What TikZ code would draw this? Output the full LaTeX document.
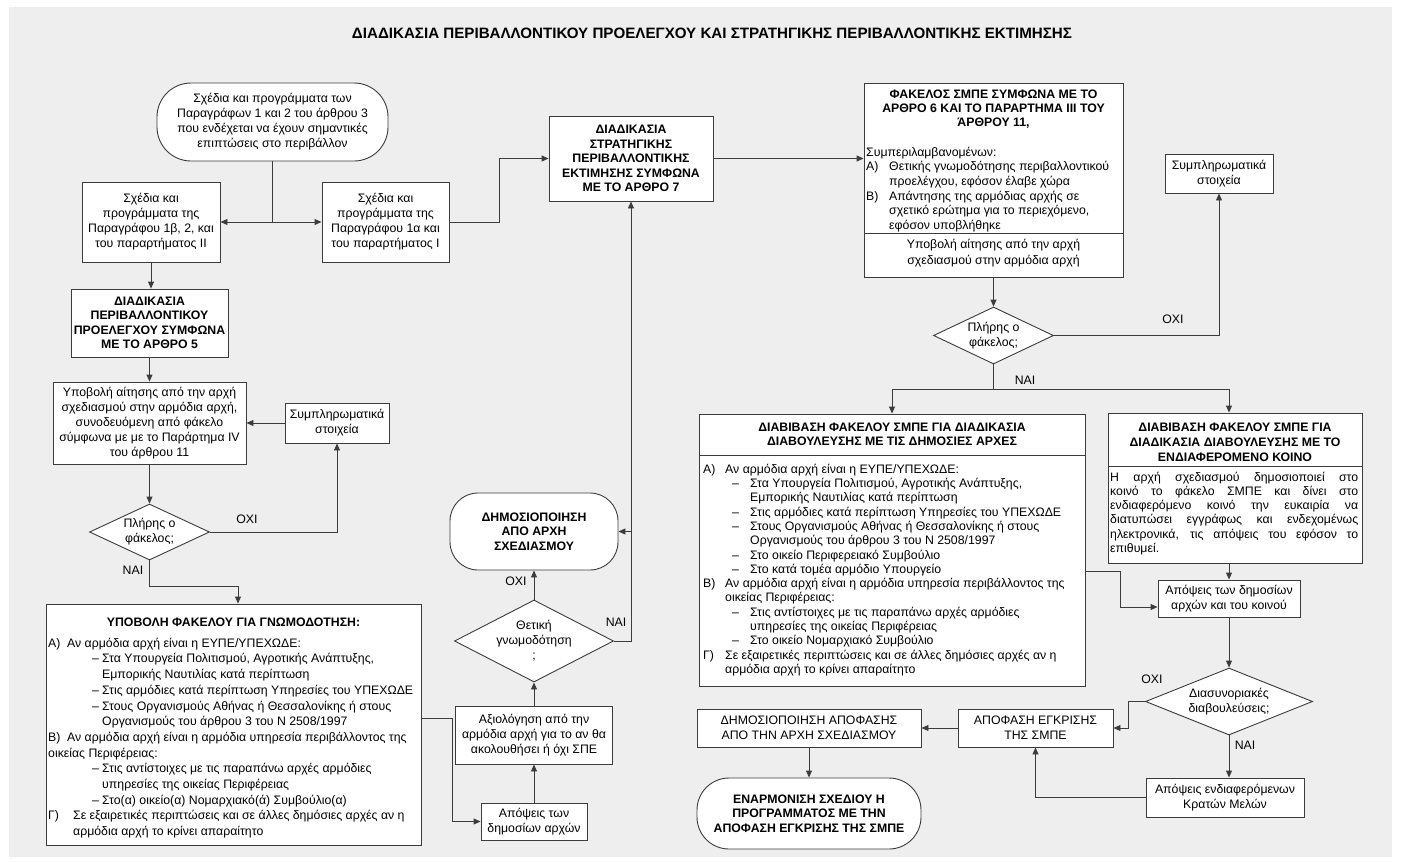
\documentclass[tikz,border=0pt]{standalone}
\usepackage{fontspec}
\usepackage{graphicx}
\setmainfont{Liberation Sans}
\usetikzlibrary{arrows.meta,shapes.geometric}
\definecolor{bg}{HTML}{EDEEED}
\definecolor{ln}{HTML}{3C3C3C}
\begin{document}
\begin{tikzpicture}[x=1pt,y=-1pt,
  base/.style={font=\fontsize{12.3}{15}\selectfont},
  box/.style={base, draw=ln, fill=white, line width=0.9pt, inner sep=0pt, align=center},
  bbox/.style={box, font=\fontsize{12.3}{14.5}\selectfont\bfseries},
  dia/.style={shape=diamond, draw=ln, fill=white, line width=0.9pt, inner sep=0pt},
  txt/.style={base, inner sep=0pt, align=center},
  btxt/.style={txt, font=\fontsize{12.3}{14.5}\selectfont\bfseries},
  lst/.style={base, inner sep=0pt, align=left, anchor=north west},
  lbl/.style={base, inner sep=0pt},
  conn/.style={draw=ln, line width=0.9pt},
  arr/.style={conn, -{Triangle[length=7pt,width=6pt]}}]
\useasboundingbox (0,0) rectangle (1407,862);
\fill[bg] (9,7) rectangle (1392,857);
\node[inner sep=0pt] (title) at (712,33) {\resizebox{720pt}{10.5pt}{\bfseries ΔΙΑΔΙΚΑΣΙΑ ΠΕΡΙΒΑΛΛΟΝΤΙΚΟΥ ΠΡΟΕΛΕΓΧΟΥ ΚΑΙ ΣΤΡΑΤΗΓΙΚΗΣ ΠΕΡΙΒΑΛΛΟΝΤΙΚΗΣ ΕΚΤΙΜΗΣΗΣ}};

% ---------- left column ----------
\node[box, minimum width=231pt, minimum height=78pt, rounded corners=34pt] (start) at (272.5,122) {Σχέδια και προγράμματα των\\Παραγράφων 1 και 2 του άρθρου 3\\που ενδέχεται να έχουν σημαντικές\\επιπτώσεις στο περιβάλλον};
\node[box, minimum width=138pt, minimum height=80pt] (b1b) at (151,222) {Σχέδια και\\προγράμματα της\\Παραγράφου 1β, 2, και\\του παραρτήματος ΙΙ};
\node[box, minimum width=127pt, minimum height=80pt] (b1a) at (385.5,222) {Σχέδια και\\προγράμματα της\\Παραγράφου 1α και\\του παραρτήματος Ι};
\node[bbox, minimum width=157pt, minimum height=68pt] (proel) at (149.5,323) {ΔΙΑΔΙΚΑΣΙΑ\\ΠΕΡΙΒΑΛΛΟΝΤΙΚΟΥ\\ΠΡΟΕΛΕΓΧΟΥ ΣΥΜΦΩΝΑ\\ΜΕ ΤΟ ΑΡΘΡΟ 5};
\node[box, minimum width=193pt, minimum height=82pt] (ypob) at (149.5,423) {Υποβολή αίτησης από την αρχή\\σχεδιασμού στην αρμόδια αρχή,\\συνοδευόμενη από φάκελο\\σύμφωνα με με το Παράρτημα IV\\του άρθρου 11};
\node[box, minimum width=104pt, minimum height=40pt] (symL) at (337,423) {Συμπληρωματικά\\στοιχεία};
\node[dia, minimum width=120pt, minimum height=56pt] (dL) at (149.5,532) {};
\node[txt] (dLt) at (dL.center) {Πλήρης ο\\φάκελος;};
\node[box, minimum width=375pt, minimum height=241pt] (gnwm) at (233.5,724.5) {};
\node[btxt, anchor=base] (gnwmT) at (233.5,626) {ΥΠΟΒΟΛΗ ΦΑΚΕΛΟΥ ΓΙΑ ΓΝΩΜΟΔΟΤΗΣΗ:};
\node[lst, font=\fontsize{12.3}{15.7}\selectfont] (gnwmL) at (48,636) {\rule{0pt}{11pt}\makebox[19pt][l]{Α)}Αν αρμόδια αρχή είναι η ΕΥΠΕ/ΥΠΕΧΩΔΕ:\\
\hspace*{44pt}\makebox[10pt][l]{–}Στα Υπουργεία Πολιτισμού, Αγροτικής Ανάπτυξης,\\
\hspace*{54pt}Εμπορικής Ναυτιλίας κατά περίπτωση\\
\hspace*{44pt}\makebox[10pt][l]{–}Στις αρμόδιες κατά περίπτωση Υπηρεσίες του ΥΠΕΧΩΔΕ\\
\hspace*{44pt}\makebox[10pt][l]{–}Στους Οργανισμούς Αθήνας ή Θεσσαλονίκης ή στους\\
\hspace*{54pt}Οργανισμούς του άρθρου 3 του Ν 2508/1997\\
\makebox[19pt][l]{Β)}Αν αρμόδια αρχή είναι η αρμόδια υπηρεσία περιβάλλοντος της\\
οικείας Περιφέρειας:\\
\hspace*{44pt}\makebox[10pt][l]{–}Στις αντίστοιχες με τις παραπάνω αρχές αρμόδιες\\
\hspace*{54pt}υπηρεσίες της οικείας Περιφέρειας\\
\hspace*{44pt}\makebox[10pt][l]{–}Στο(α) οικείο(α) Νομαρχιακό(ά) Συμβούλιο(α)\\
\makebox[25pt][l]{Γ)}Σε εξαιρετικές περιπτώσεις και σε άλλες δημόσιες αρχές αν η\\
\hspace*{25pt}αρμόδια αρχή το κρίνει απαραίτητο};

% ---------- middle column ----------
\node[bbox, minimum width=164pt, minimum height=85pt] (spe7) at (631,158.5) {ΔΙΑΔΙΚΑΣΙΑ\\ΣΤΡΑΤΗΓΙΚΗΣ\\ΠΕΡΙΒΑΛΛΟΝΤΙΚΗΣ\\ΕΚΤΙΜΗΣΗΣ ΣΥΜΦΩΝΑ\\ΜΕ ΤΟ ΑΡΘΡΟ 7};
\node[bbox, minimum width=168pt, minimum height=77pt, rounded corners=28pt] (dimos) at (534,531.5) {ΔΗΜΟΣΙΟΠΟΙΗΣΗ\\ΑΠΟ ΑΡΧΗ\\ΣΧΕΔΙΑΣΜΟΥ};
\node[dia, minimum width=159pt, minimum height=82pt] (dTh) at (534,641) {};
\node[txt] (dThT) at (dTh.center) {Θετική\\γνωμοδότηση\\;};
\node[box, minimum width=157pt, minimum height=58pt] (axiol) at (534,735) {Αξιολόγηση από την\\αρμόδια αρχή για το αν θα\\ακολουθήσει ή όχι ΣΠΕ};
\node[box, minimum width=106pt, minimum height=37pt] (apops) at (534,821.5) {Απόψεις των\\δημοσίων αρχών};

% ---------- right part ----------
\node[box, minimum width=259pt, minimum height=194pt] (fak) at (993.5,180) {};
\draw[conn] ([yshift=-53pt]fak.west) -- ([yshift=-53pt]fak.east);
\node[btxt, font=\fontsize{12.3}{14}\selectfont\bfseries] (fakT) at (993.5,109) {ΦΑΚΕΛΟΣ ΣΜΠΕ ΣΥΜΦΩΝΑ ΜΕ ΤΟ\\ΑΡΘΡΟ 6 ΚΑΙ ΤΟ ΠΑΡΑΡΤΗΜΑ ΙΙΙ ΤΟΥ\\ΆΡΘΡΟΥ 11,};
\node[lst, font=\fontsize{12.3}{14.6}\selectfont] (fakL) at (866,145) {\rule{0pt}{11pt}Συμπεριλαμβανομένων:\\
\makebox[23pt][l]{Α)}Θετικής γνωμοδότησης περιβαλλοντικού\\
\hspace*{23pt}προελέγχου, εφόσον έλαβε χώρα\\
\makebox[23pt][l]{Β)}Απάντησης της αρμόδιας αρχής σε\\
\hspace*{23pt}σχετικό ερώτημα για το περιεχόμενο,\\
\hspace*{23pt}εφόσον υποβλήθηκε};
\node[txt, font=\fontsize{12.3}{15.5}\selectfont] (fakB) at (993.5,253) {Υποβολή αίτησης από την αρχή\\σχεδιασμού στην αρμόδια αρχή};
\node[box, minimum width=108pt, minimum height=39pt] (symR) at (1219,173.5) {Συμπληρωματικά\\στοιχεία};
\node[dia, minimum width=120pt, minimum height=57pt] (dR) at (993.5,335.5) {};
\node[txt] (dRt) at (dR.center) {Πλήρης ο\\φάκελος;};

\node[box, minimum width=386pt, minimum height=272pt] (diabA) at (892,550) {};
\draw[conn] ([yshift=95pt]diabA.west) -- ([yshift=95pt]diabA.east);
\node[btxt, font=\fontsize{12.3}{14.3}\selectfont\bfseries] (diabAT) at (892,434) {ΔΙΑΒΙΒΑΣΗ ΦΑΚΕΛΟΥ ΣΜΠΕ ΓΙΑ ΔΙΑΔΙΚΑΣΙΑ\\ΔΙΑΒΟΥΛΕΥΣΗΣ ΜΕ ΤΙΣ ΔΗΜΟΣΙΕΣ ΑΡΧΕΣ};
\node[lst, font=\fontsize{12.3}{14.3}\selectfont] (diabAL) at (703,462) {\rule{0pt}{11pt}\makebox[22pt][l]{Α)}Αν αρμόδια αρχή είναι η ΕΥΠΕ/ΥΠΕΧΩΔΕ:\\
\hspace*{29pt}\makebox[18pt][l]{–}Στα Υπουργεία Πολιτισμού, Αγροτικής Ανάπτυξης,\\
\hspace*{47pt}Εμπορικής Ναυτιλίας κατά περίπτωση\\
\hspace*{29pt}\makebox[18pt][l]{–}Στις αρμόδιες κατά περίπτωση Υπηρεσίες του ΥΠΕΧΩΔΕ\\
\hspace*{29pt}\makebox[18pt][l]{–}Στους Οργανισμούς Αθήνας ή Θεσσαλονίκης ή στους\\
\hspace*{47pt}Οργανισμούς του άρθρου 3 του Ν 2508/1997\\
\hspace*{29pt}\makebox[18pt][l]{–}Στο οικείο Περιφερειακό Συμβούλιο\\
\hspace*{29pt}\makebox[18pt][l]{–}Στο κατά τομέα αρμόδιο Υπουργείο\\
\makebox[22pt][l]{Β)}Αν αρμόδια αρχή είναι η αρμόδια υπηρεσία περιβάλλοντος της\\
\hspace*{22pt}οικείας Περιφέρειας:\\
\hspace*{29pt}\makebox[18pt][l]{–}Στις αντίστοιχες με τις παραπάνω αρχές αρμόδιες\\
\hspace*{47pt}υπηρεσίες της οικείας Περιφέρειας\\
\hspace*{29pt}\makebox[18pt][l]{–}Στο οικείο Νομαρχιακό Συμβούλιο\\
\makebox[22pt][l]{Γ)}Σε εξαιρετικές περιπτώσεις και σε άλλες δημόσιες αρχές αν η\\
\hspace*{22pt}αρμόδια αρχή το κρίνει απαραίτητο};

\node[box, minimum width=254pt, minimum height=150pt] (diabK) at (1235,488) {};
\draw[conn] ([yshift=22pt]diabK.west) -- ([yshift=22pt]diabK.east);
\node[btxt, font=\fontsize{12.3}{15}\selectfont\bfseries] (diabKT) at (1235,442) {ΔΙΑΒΙΒΑΣΗ ΦΑΚΕΛΟΥ ΣΜΠΕ ΓΙΑ\\ΔΙΑΔΙΚΑΣΙΑ ΔΙΑΒΟΥΛΕΥΣΗΣ ΜΕ ΤΟ\\ΕΝΔΙΑΦΕΡΟΜΕΝΟ ΚΟΙΝΟ};
\node[lst, font=\fontsize{12.3}{14.2}\selectfont] (diabKL) at (1110,470) {\rule{0pt}{11pt}\makebox[248pt][s]{Η αρχή σχεδιασμού δημοσιοποιεί στο}\\
\makebox[248pt][s]{κοινό το φάκελο ΣΜΠΕ και δίνει στο}\\
\makebox[248pt][s]{ενδιαφερόμενο κοινό την ευκαιρία να}\\
\makebox[248pt][s]{διατυπώσει εγγράφως και ενδεχομένως}\\
\makebox[248pt][s]{ηλεκτρονικά, τις απόψεις του εφόσον το}\\
επιθυμεί.};

\node[box, minimum width=142pt, minimum height=37pt] (apopK) at (1229,598.5) {Απόψεις των δημοσίων\\αρχών και του κοινού};
\node[dia, minimum width=167pt, minimum height=67pt] (dD) at (1229,701.5) {};
\node[txt] (dDt) at (dD.center) {Διασυνοριακές\\διαβουλεύσεις;};
\node[box, minimum width=158pt, minimum height=39pt] (apopKM) at (1225,797.5) {Απόψεις ενδιαφερόμενων\\Κρατών Μελών};
\node[box, minimum width=155pt, minimum height=38pt] (apof) at (1035.5,728) {ΑΠΟΦΑΣΗ ΕΓΚΡΙΣΗΣ\\ΤΗΣ ΣΜΠΕ};
\node[box, minimum width=224pt, minimum height=38pt] (dimA) at (809,728) {ΔΗΜΟΣΙΟΠΟΙΗΣΗ ΑΠΟΦΑΣΗΣ\\ΑΠΟ ΤΗΝ ΑΡΧΗ ΣΧΕΔΙΑΣΜΟΥ};
\node[bbox, minimum width=224pt, minimum height=71pt, rounded corners=32pt] (enarm) at (809,813.5) {ΕΝΑΡΜΟΝΙΣΗ ΣΧΕΔΙΟΥ Η\\ΠΡΟΓΡΑΜΜΑΤΟΣ ΜΕ ΤΗΝ\\ΑΠΟΦΑΣΗ ΕΓΚΡΙΣΗΣ ΤΗΣ ΣΜΠΕ};

% ---------- connectors ----------
\draw[conn] (start.south) -- (start.south |- b1b.east) coordinate (j1);
\draw[arr] (j1) -- (b1b.east);
\draw[arr] (j1) -- (b1a.west);
\draw[arr] (b1a.east) -- ++(50,0) |- (spe7.west);
\draw[arr] (spe7.east) -- (spe7.east -| fak.west);
\draw[arr] (b1b.south) -- (b1b.south |- proel.north);
\draw[arr] (proel.south) -- (ypob.north);
\draw[arr] (ypob.south) -- (dL.north);
\draw[arr] (dL.east) -| (symL.south);
\draw[arr] (symL.west) -- (ypob.east);
\draw[arr] (dL.south) -- ++(0,26) -| ([xshift=4.5pt]gnwm.north);
\draw[arr] ([yshift=6.5pt]gnwm.east) -- ++(31,0) |- (apops.west);
\draw[arr] (apops.north) -- (axiol.south);
\draw[arr] (axiol.north) -- (dTh.south);
\draw[arr] (dTh.north) -- (dimos.south);
\draw[arr] (dTh.east) -| (spe7.south);
\draw[arr] (spe7.south |- dimos.east) -- (dimos.east);
\draw[arr] (fak.south) -- (dR.north);
\draw[arr] (dR.east) -| (symR.south);
\draw[conn] (dR.south) -- ++(0,25) coordinate (j2);
\draw[arr] (j2) -| (diabA.north);
\draw[arr] (j2) -| ([xshift=-6pt]diabK.north);
\draw[arr] ([yshift=-21pt]diabA.east) -- ++(35,0) |- ([yshift=-8.5pt]apopK.west);
\draw[arr] ([xshift=-6pt]diabK.south) -- (apopK.north);
\draw[arr] (apopK.south) -- (dD.north);
\draw[arr] (dD.west) -- ++(-17,0) |- (apof.east);
\draw[arr] (dD.south) -- (dD.south |- apopKM.north);
\draw[arr] (apopKM.west) -| (apof.south);
\draw[arr] (apof.west) -- (dimA.east);
\draw[arr] (dimA.south) -- (enarm.north);

% ---------- labels ----------
\node[lbl] (oxi1) at (247,519) {ΟΧΙ};
\node[lbl] (nai1) at (133,570) {ΝΑΙ};
\node[lbl] (oxi2) at (516,581) {ΟΧΙ};
\node[lbl] (nai2) at (616,622) {ΝΑΙ};
\node[lbl] (oxi3) at (1173,319) {ΟΧΙ};
\node[lbl] (nai3) at (1025,380) {ΝΑΙ};
\node[lbl] (oxi4) at (1152,679) {ΟΧΙ};
\node[lbl] (nai4) at (1245,745) {ΝΑΙ};
\end{tikzpicture}
\end{document}
